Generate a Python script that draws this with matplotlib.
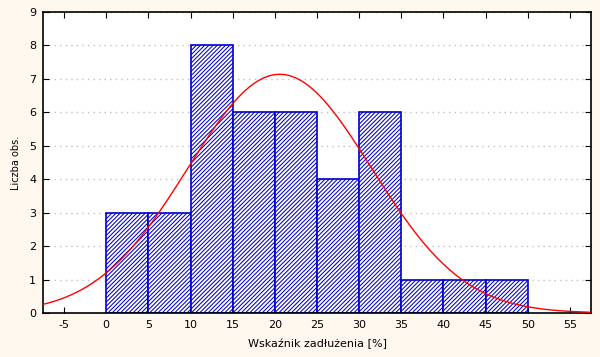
import matplotlib.pyplot as plt
import numpy as np

# histogram: bin edges and counts
edges = [0, 5, 10, 15, 20, 25, 30, 35, 40, 45, 50]
counts = [3, 3, 8, 6, 6, 4, 6, 1, 1, 1]

# fitted normal curve parameters
mu = 20.58
sigma = 10.9
bin_w = 5

xticks = [-5, 0, 5, 10, 15, 20, 25, 30, 35, 40, 45, 50, 55]
yticks = list(range(0, 10))

plt.rcParams['hatch.linewidth'] = 0.75
plt.rcParams['axes.unicode_minus'] = False

fig = plt.figure(figsize=(6, 3.57), dpi=100)
fig.patch.set_facecolor('#fff8ee')
ax = fig.add_axes([0.0717, 0.1232, 0.9133, 0.8432])
ax.set_facecolor('white')

ax.bar(edges[:-1], counts, width=bin_w, align='edge', color='white',
       edgecolor='#0000cc', hatch='////////', linewidth=1.2, zorder=2)

n = sum(counts)
xs = np.linspace(-7.5, 57.5, 400)
ys = n * bin_w / (sigma * np.sqrt(2 * np.pi)) * np.exp(-(xs - mu) ** 2 / (2 * sigma ** 2))
ax.plot(xs, ys, color='red', linewidth=1.0, zorder=3)

ax.set_xlim(-7.5, 57.5)
ax.set_ylim(0, 9)
ax.set_xticks(xticks)
ax.set_yticks(yticks)
ax.yaxis.grid(True, linestyle=(0, (1, 3)), color='#c0c0c0', linewidth=1, zorder=0)
ax.set_axisbelow(True)
ax.tick_params(direction='in', top=True, right=True, labelsize=8, length=4, pad=5)
for s in ax.spines.values():
    s.set_linewidth(1.2)

ax.set_xlabel('Wskaźnik zadłużenia [%]', fontsize=8, labelpad=6)
ax.set_ylabel('Liczba obs.', fontsize=7, labelpad=6)

plt.savefig('out.png', dpi=100, facecolor=fig.get_facecolor())
